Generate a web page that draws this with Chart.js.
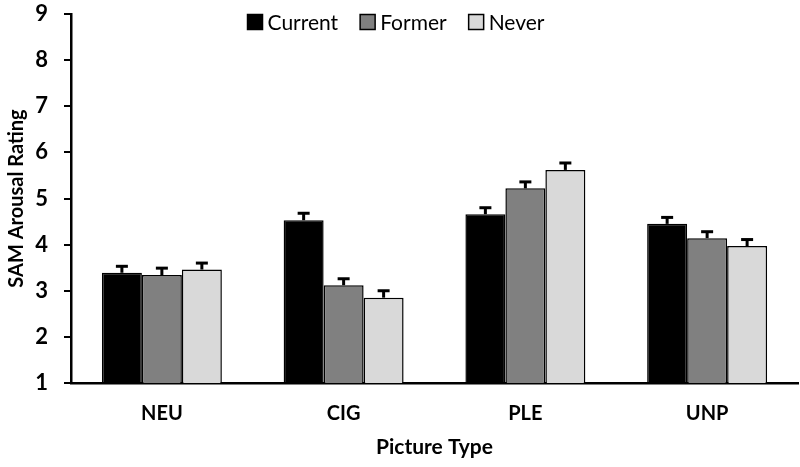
<!DOCTYPE html>
<html>
<head>
<meta charset="utf-8">
<script src="https://cdn.jsdelivr.net/npm/chart.js@4/dist/chart.umd.min.js"></script>
<style>
  html, body { margin: 0; padding: 0; background: #fff; }
  #holder { width: 800px; height: 467px; }
</style>
</head>
<body>
<div id="holder"><canvas id="bars"></canvas></div>
<script>
// picture categories and group means (SAM arousal)
const pictureTypes = ['NEU', 'CIG', 'PLE', 'UNP']
const groupNames = ['Current', 'Former', 'Never']
const currentMeans = [3.39, 4.53, 4.66, 4.45]
const formerMeans = [3.34, 3.12, 5.22, 4.14]
const neverMeans = [3.46, 2.85, 5.62, 3.97]
// standard errors (upper whisker only)
const currentErr = [0.14, 0.15, 0.14, 0.14]
const formerErr = [0.15, 0.14, 0.14, 0.14]
const neverErr = [0.14, 0.15, 0.15, 0.14]
const yTicks = [1, 2, 3, 4, 5, 6, 7, 8, 9]

const fillColors = ['#000000', '#808080', '#d9d9d9']
const fontFamily = 'Lato, "Open Sans", sans-serif'

// whiskers drawn through the chart's own scales
const errorBars = {
    id: 'errorBars',
    afterDatasetsDraw(chart) {
        let ctx = chart.ctx
        let y = chart.scales.y
        ctx.save()
        ctx.strokeStyle = '#000'
        chart.data.datasets.forEach(function(ds, i){
            let meta = chart.getDatasetMeta(i)
            meta.data.forEach(function(bar, j){
                let top = y.getPixelForValue(ds.data[j])
                let tip = y.getPixelForValue(ds.data[j] + ds.errors[j])
                ctx.lineWidth = 3
                ctx.beginPath()
                ctx.moveTo(bar.x, top)
                ctx.lineTo(bar.x, tip)
                ctx.stroke()
                ctx.beginPath()
                ctx.moveTo(bar.x - 6, tip)
                ctx.lineTo(bar.x + 6, tip)
                ctx.stroke()
            })
        })
        ctx.restore()
    }
}

// legend sits inside the plot, like the original figure
const insideLegend = {
    id: 'insideLegend',
    afterDraw(chart) {
        let ctx = chart.ctx
        ctx.save()
        ctx.font = '21px ' + fontFamily
        ctx.textBaseline = 'middle'
        let box = 15, gap = 5, spacing = 22
        let widths = chart.data.datasets.map(ds => box + gap + ctx.measureText(ds.label).width)
        let total = widths.reduce((a, b) => a + b, 0) + spacing * (widths.length - 1)
        let x = 396 - total / 2
        let cy = 22
        chart.data.datasets.forEach(function(ds, i){
            ctx.fillStyle = ds.backgroundColor
            ctx.fillRect(x, cy - box / 2, box, box)
            ctx.strokeStyle = '#000'
            ctx.lineWidth = 1.5
            ctx.strokeRect(x, cy - box / 2, box, box)
            ctx.fillStyle = '#000'
            ctx.fillText(ds.label, x + box + gap, cy + 1)
            x += widths[i] + spacing
        })
        ctx.restore()
    }
}

let canvas = document.querySelector('#bars')

let chart = new Chart(
    canvas,
    {
        type: 'bar',
        data: {
            labels: pictureTypes,
            datasets: [
                { label: groupNames[0], data: currentMeans, errors: currentErr, backgroundColor: fillColors[0] },
                { label: groupNames[1], data: formerMeans, errors: formerErr, backgroundColor: fillColors[1] },
                { label: groupNames[2], data: neverMeans, errors: neverErr, backgroundColor: fillColors[2] }
            ].map(ds => Object.assign(ds, {
                borderColor: '#000',
                borderWidth: 1.5,
                borderSkipped: 'bottom',
                categoryPercentage: 0.66,
                barPercentage: 1
            }))
        },
        options: {
            responsive: true,
            maintainAspectRatio: false,
            animation: false,
            layout: { padding: { top: 14, right: 2, left: 0, bottom: 0 } },
            plugins: {
                legend: { display: false },
                tooltip: { enabled: false }
            },
            scales: {
                x: {
                    afterFit: s => { s.height = 84 },
                    grid: { display: false, drawTicks: false },
                    border: { display: true, color: '#000', width: 2.5 },
                    ticks: {
                        color: '#000',
                        padding: 19,
                        font: { family: fontFamily, size: 20, weight: 'bold' }
                    },
                    title: {
                        display: true,
                        text: 'Picture Type',
                        color: '#000',
                        padding: { top: 0, bottom: 7 },
                        font: { family: fontFamily, size: 21, weight: 'bold' }
                    }
                },
                y: {
                    min: 1,
                    max: 9,
                    afterFit: s => { s.width = 71; s.paddingTop = 0; s.paddingBottom = 0 },
                    afterBuildTicks: s => { s.ticks = yTicks.map(v => ({ value: v })) },
                    grid: {
                        drawOnChartArea: false,
                        drawTicks: true,
                        tickLength: 7,
                        color: '#000',
                        lineWidth: 2
                    },
                    border: { display: true, color: '#000', width: 2.5 },
                    ticks: {
                        color: '#000',
                        padding: 16,
                        font: { family: fontFamily, size: 22, weight: 'bold' }
                    },
                    title: {
                        display: true,
                        text: 'SAM Arousal Rating',
                        color: '#000',
                        padding: { top: 5, bottom: 0 },
                        font: { family: fontFamily, size: 20, weight: 'bold' }
                    }
                }
            }
        },
        plugins: [errorBars, insideLegend]
    }
)
</script>
</body>
</html>
